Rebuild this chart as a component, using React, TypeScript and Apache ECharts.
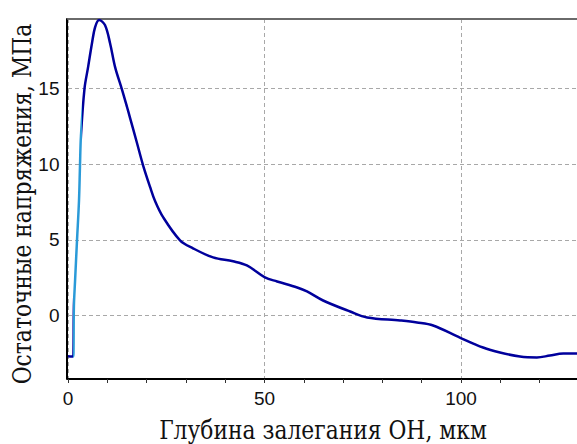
import React, { useEffect, useRef } from "react";
import * as echarts from "echarts";

const depth = [0, 1.3, 1.4, 1.5, 1.8, 2.3, 2.8, 3.05, 3.3, 4.2, 5.1, 6.1, 6.9, 7.9, 9.4, 10.7, 12.0, 13.7, 15.0, 15.8, 17.5, 19.1, 20.9, 22.1, 24.2, 28.5, 31.8, 36.9, 42.0, 45.5, 50.1, 53.2, 58.3, 60.8, 64.9, 71.8, 76.1, 84.5, 88.8, 92.9, 99.7, 105.6, 109.9, 115.0, 119.3, 122.6, 126.0, 129.5];
const stress = [-2.7, -2.72, -2.4, 0.6, 2.3, 5.0, 7.6, 9.9, 11.9, 15.0, 16.4, 18.0, 19.07, 19.54, 19.2, 18.0, 16.4, 14.97, 13.8, 13.05, 11.45, 9.93, 8.48, 7.6, 6.5, 4.97, 4.44, 3.84, 3.58, 3.31, 2.52, 2.25, 1.85, 1.59, 0.99, 0.26, -0.13, -0.33, -0.46, -0.66, -1.46, -2.12, -2.45, -2.72, -2.78, -2.65, -2.52, -2.52];

const xLabels = [0, 50, 100];
const yLabels = [0, 5, 10, 15];

const xName = "Глубина залегания ОН, мкм";
const yName = "Остаточные напряжения, МПа";

const sans = "Liberation Sans";
const nameFont = "26px 'DejaVu Serif'";

export default function App() {
  const ref = useRef<HTMLDivElement>(null);
  useEffect(() => {
    if (!ref.current) return;
    const chart = echarts.init(ref.current, null, { renderer: "svg" });
    const gridDash = { color: "#a8a8a8", width: 1, type: [4, 3] as any };
    chart.setOption({
      animation: false,
      backgroundColor: "#ffffff",
      grid: { left: 68, right: 0, top: 19, bottom: 65, containLabel: false, outerBoundsMode: "none" },
      visualMap: {
        show: false,
        type: "piecewise",
        dimension: 0,
        seriesIndex: 0,
        pieces: [
          { lt: 1.35, color: "#00009c" },
          { gte: 1.35, lt: 3.6, color: "#2a9ad8" },
          { gte: 3.6, color: "#00009c" },
        ],
      },
      graphic: [
        {
          type: "text",
          x: 323,
          y: 430,
          scaleX: 0.84,
          style: {
            text: xName,
            font: nameFont,
            fill: "#111",
            align: "center",
            verticalAlign: "middle",
          },
        },
        {
          type: "text",
          x: 22,
          y: 204,
          rotation: Math.PI / 2,
          scaleX: 0.84,
          style: {
            text: yName,
            font: nameFont,
            fill: "#111",
            align: "center",
            verticalAlign: "middle",
          },
        },
      ],
      xAxis: [
        {
          type: "value",
          position: "bottom",
          min: 0,
          max: 129.5,
          interval: 10,
          axisLine: { show: true, onZero: false, lineStyle: { color: "#000", width: 2 } },
          axisTick: { show: true, length: 4, lineStyle: { color: "#333", width: 1 } },
          axisLabel: {
            color: "#111",
            fontFamily: sans,
            fontSize: 19,
            margin: 10,
            showMaxLabel: false,
            formatter: (v: number) => (xLabels.includes(v) ? String(v) : ""),
          },
          splitLine: { show: false },
        },
        {
          type: "value",
          position: "top",
          min: 0,
          max: 129.5,
          interval: 50,
          axisLine: { show: true, onZero: false, lineStyle: { color: "#6a6a6a", width: 2 } },
          axisTick: { show: false },
          axisLabel: { show: false },
          splitLine: { show: true, lineStyle: gridDash },
        },
      ],
      yAxis: {
        type: "value",
        min: -4.2,
        max: 19.6,
        splitNumber: 5,
        offset: 1.5,
        axisLine: { show: true, onZero: false, lineStyle: { color: "#000", width: 2 } },
        axisTick: { show: false },
        axisLabel: {
          color: "#111",
          fontFamily: sans,
          fontSize: 19,
          margin: 7,
          showMinLabel: false,
          showMaxLabel: false,
          formatter: (v: number) => (yLabels.includes(v) ? String(v) : ""),
        },
        splitLine: { show: true, lineStyle: gridDash },
      },
      series: [
        {
          type: "line",
          xAxisIndex: 0,
          data: depth.map((d, i) => [d, stress[i]]),
          showSymbol: false,
          smooth: 0.35,
          lineStyle: { width: 2.5 },
          clip: true,
        },
      ],
    });
    return () => chart.dispose();
  }, []);
  return <div ref={ref} style={{ width: 577, height: 444, position: "absolute", left: 0, top: 0 }} />;
}
